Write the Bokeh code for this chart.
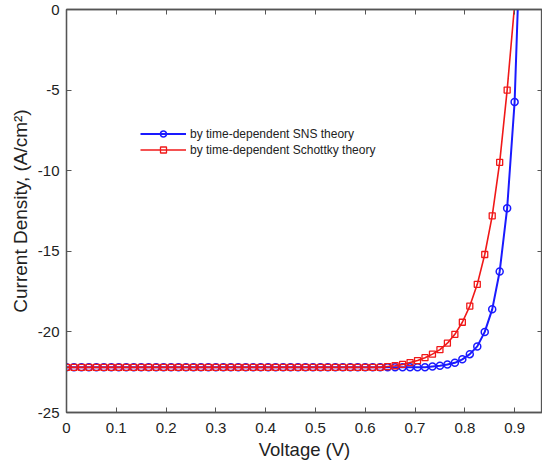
from bokeh.plotting import figure
from bokeh.models import Range1d, LinearAxis, FixedTicker, Legend, LegendItem
from bokeh.embed import file_html
from bokeh.resources import INLINE

# Voltage grid (V)
voltage = [0.000, 0.015, 0.030, 0.045, 0.060, 0.075, 0.090, 0.105, 0.120, 0.135,
           0.150, 0.165, 0.180, 0.195, 0.210, 0.225, 0.240, 0.255, 0.270, 0.285,
           0.300, 0.315, 0.330, 0.345, 0.360, 0.375, 0.390, 0.405, 0.420, 0.435,
           0.450, 0.465, 0.480, 0.495, 0.510, 0.525, 0.540, 0.555, 0.570, 0.585,
           0.600, 0.615, 0.630, 0.645, 0.660, 0.675, 0.690, 0.705, 0.720, 0.735,
           0.750, 0.765, 0.780, 0.795, 0.810, 0.825, 0.840, 0.855, 0.870, 0.885,
           0.900, 0.915]

# Current density (A/cm^2), time-dependent SNS theory (blue circles)
j_sns = [-22.2, -22.2, -22.2, -22.2, -22.2, -22.2, -22.2, -22.2, -22.2, -22.2,
         -22.2, -22.2, -22.2, -22.2, -22.2, -22.2, -22.2, -22.2, -22.2, -22.2,
         -22.2, -22.2, -22.2, -22.2, -22.2, -22.2, -22.2, -22.2, -22.2, -22.2,
         -22.2, -22.2, -22.2, -22.2, -22.2, -22.2, -22.2, -22.2, -22.2, -22.2,
         -22.2, -22.2, -22.2, -22.2, -22.2, -22.2, -22.2, -22.2, -22.2, -22.15,
         -22.1, -22.02, -21.92, -21.7, -21.38, -20.9, -20.0, -18.6, -16.25, -12.33,
         -5.74, 8.0]

# Current density (A/cm^2), time-dependent Schottky theory (red squares)
j_schottky = [-22.2, -22.2, -22.2, -22.2, -22.2, -22.2, -22.2, -22.2, -22.2, -22.2,
              -22.2, -22.2, -22.2, -22.2, -22.2, -22.2, -22.2, -22.2, -22.2, -22.2,
              -22.2, -22.2, -22.2, -22.2, -22.2, -22.2, -22.2, -22.2, -22.2, -22.2,
              -22.2, -22.2, -22.2, -22.2, -22.2, -22.2, -22.2, -22.2, -22.2, -22.2,
              -22.2, -22.2, -22.2, -22.15, -22.1, -22.02, -21.9, -21.78, -21.6, -21.38,
              -21.1, -20.7, -20.15, -19.4, -18.4, -17.05, -15.2, -12.8, -9.48, -5.0,
              0.3]

x_ticks = [0, 0.1, 0.2, 0.3, 0.4, 0.5, 0.6, 0.7, 0.8, 0.9]
x_tick_labels = ["0", "0.1", "0.2", "0.3", "0.4", "0.5", "0.6", "0.7", "0.8", "0.9"]
y_ticks = [-25, -20, -15, -10, -5, 0]
y_tick_labels = ["-25", "-20", "-15", "-10", "-5", "0"]

series_labels = ["by time-dependent SNS theory", "by time-dependent Schottky theory"]

FONT = "Liberation Sans"
AXIS_COLOR = "#555555"
BLUE = "#1a1aff"
RED = "#f01818"

p = figure(width=542, height=462, output_backend="svg", toolbar_location=None,
           x_range=Range1d(0, 0.956), y_range=Range1d(-25, 0),
           x_axis_location=None, y_axis_location=None,
           min_border_left=66, min_border_right=0, min_border_top=9, min_border_bottom=5)
p.xgrid.visible = False
p.ygrid.visible = False
p.outline_line_color = AXIS_COLOR
p.outline_line_width = 1.3
p.background_fill_color = "white"
p.border_fill_color = "white"


def style_axis(ax, labels):
    ax.axis_line_color = AXIS_COLOR
    ax.axis_line_width = 1.3
    ax.major_tick_line_color = AXIS_COLOR
    ax.major_tick_in = 5
    ax.major_tick_out = 0
    ax.minor_tick_line_color = None
    ax.major_label_text_font = FONT
    ax.major_label_text_font_size = "15px"
    ax.major_label_text_color = "#222222"
    ax.axis_label_text_font = FONT
    ax.axis_label_text_font_style = "normal"
    ax.axis_label_text_font_size = "18.5px"
    ax.axis_label_text_color = "#222222"
    if not labels:
        ax.major_label_text_font_size = "1px"
        ax.major_label_text_color = None
        ax.major_label_standoff = 0


xb = LinearAxis(ticker=FixedTicker(ticks=x_ticks),
                major_label_overrides=dict(zip(x_ticks, x_tick_labels)),
                axis_label="Voltage (V)")
style_axis(xb, True)
xb.major_label_standoff = 10
xb.axis_label_standoff = 3
p.add_layout(xb, "below")

yl = LinearAxis(ticker=FixedTicker(ticks=y_ticks),
                major_label_overrides=dict(zip(y_ticks, y_tick_labels)),
                axis_label="Current Density, (A/cm²)")
style_axis(yl, True)
yl.axis_label_text_font_size = "19px"
yl.major_label_standoff = 7
yl.axis_label_standoff = 4
p.add_layout(yl, "left")

xt = LinearAxis(ticker=FixedTicker(ticks=x_ticks))
style_axis(xt, False)
p.add_layout(xt, "above")

yr = LinearAxis(ticker=FixedTicker(ticks=y_ticks))
style_axis(yr, False)
p.add_layout(yr, "right")

bl = p.line(voltage, j_sns, line_color=BLUE, line_width=2)
bs = p.scatter(voltage, j_sns, marker="circle", size=7, line_color=BLUE,
               line_width=1.5, fill_color=None)
rl = p.line(voltage[:len(j_schottky)], j_schottky, line_color=RED, line_width=1.6)
rs = p.scatter(voltage[:len(j_schottky)], j_schottky, marker="square", size=6,
               line_color=RED, line_width=1.3, fill_color=None)

legend = Legend(items=[LegendItem(label=series_labels[0], renderers=[bl, bs]),
                       LegendItem(label=series_labels[1], renderers=[rl, rs])],
                location=(74, 255), border_line_color=None, background_fill_alpha=0,
                glyph_width=46, glyph_height=15, label_height=15, spacing=1,
                padding=0, margin=0, label_standoff=4,
                label_text_font=FONT, label_text_font_size="12px",
                label_text_color="#222222")
p.add_layout(legend, "center")

open("out.html", "w").write(file_html(p, INLINE))
